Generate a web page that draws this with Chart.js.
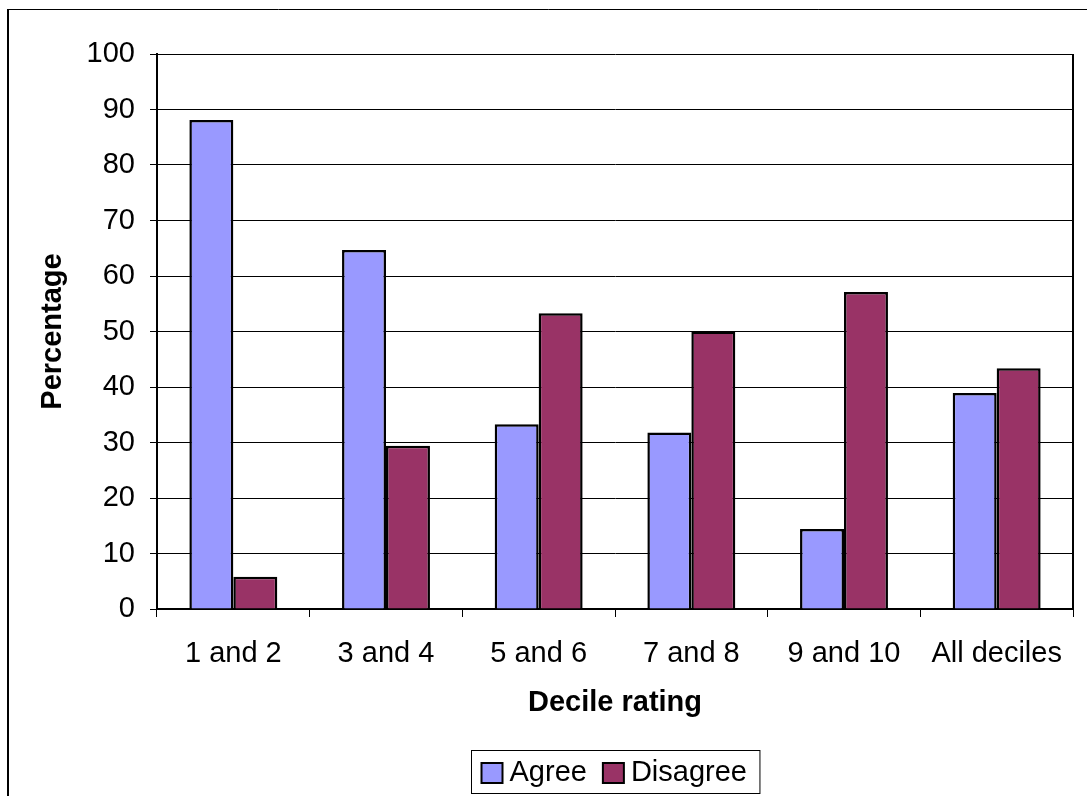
<!DOCTYPE html>
<html>
<head>
<meta charset="utf-8">
<script src="https://cdn.jsdelivr.net/npm/chart.js@4.4.1/dist/chart.umd.min.js"></script>
<style>
  html, body { margin: 0; padding: 0; background: #fff; }
  #wrap { position: relative; width: 1087px; height: 796px; }
  canvas { display: block; }
</style>
</head>
<body>
<div id="wrap"><canvas id="chart" width="1087" height="796"></canvas></div>
<script>
// Survey responses by decile rating (percent)
const categories = ['1 and 2', '3 and 4', '5 and 6', '7 and 8', '9 and 10', 'All deciles'];
const agree = [88.1, 64.7, 33.3, 31.8, 14.4, 38.9];
const disagree = [5.8, 29.4, 53.3, 50.0, 57.1, 43.4];
const seriesNames = ['Agree', 'Disagree'];
const yTicks = [0, 10, 20, 30, 40, 50, 60, 70, 80, 90, 100];

const FONT = '"Liberation Sans", Arial, sans-serif';
const FS = 29;

// Outer frame, plot-area right edge and boxed legend
const decor = {
  id: 'decor',
  beforeDraw(chart) {
    const ctx = chart.ctx;
    ctx.save();
    ctx.strokeStyle = '#000';
    ctx.lineWidth = 1;
    ctx.beginPath();
    ctx.moveTo(8.5, 2000);
    ctx.lineTo(8.5, 9.5);
    ctx.lineTo(2000, 9.5);
    ctx.stroke();
    ctx.fillStyle = '#000';
    ctx.fillRect(7, 9, 2, 2000);
    ctx.restore();
  },
  afterDraw(chart) {
    const ctx = chart.ctx;
    const a = chart.chartArea;
    ctx.save();
    ctx.strokeStyle = '#000';
    ctx.lineWidth = 2;
    ctx.beginPath();
    ctx.moveTo(a.right, a.top);
    ctx.lineTo(a.right, a.bottom);
    ctx.stroke();

    // legend
    ctx.font = FS + 'px ' + FONT;
    const sw = 21, gapText = 7, gapItem = 16, padL = 10, padR = 13;
    const items = chart.data.datasets.map(ds => ({
      label: ds.label, color: ds.backgroundColor, w: ctx.measureText(ds.label).width
    }));
    let total = padL + padR;
    items.forEach((it, i) => { total += sw + gapText + it.w + (i < items.length - 1 ? gapItem : 0); });
    const cx = (a.left + a.right) / 2;
    const boxX = Math.round(cx - total / 2) + 0.5;
    const boxY = a.bottom + 141.5;
    const boxH = 43;
    ctx.lineWidth = 1;
    ctx.strokeRect(boxX, boxY, total, boxH);
    let x = boxX + padL;
    const midY = boxY + boxH / 2 + 1;
    items.forEach(it => {
      ctx.fillStyle = it.color;
      ctx.fillRect(x, midY - 10, sw, 20);
      ctx.lineWidth = 2;
      ctx.strokeStyle = '#000';
      ctx.strokeRect(x, midY - 10, sw, 20);
      ctx.fillStyle = '#000';
      ctx.textBaseline = 'middle';
      ctx.textAlign = 'left';
      ctx.fillText(it.label, x + sw + gapText, midY);
      x += sw + gapText + it.w + gapItem;
    });
    ctx.restore();
  }
};

new Chart(document.getElementById('chart'), {
  type: 'bar',
  data: {
    labels: categories,
    datasets: [
      { label: seriesNames[0], data: agree, backgroundColor: '#9999FF', borderColor: '#000', borderWidth: 2.5 },
      { label: seriesNames[1], data: disagree, backgroundColor: '#993366', borderColor: '#000', borderWidth: 2.5 }
    ]
  },
  options: {
    responsive: false,
    animation: false,
    layout: { padding: { left: 0, right: 14, top: 54, bottom: 76 } },
    datasets: { bar: { categoryPercentage: 0.576, barPercentage: 1.0 } },
    plugins: { legend: { display: false }, tooltip: { enabled: false } },
    scales: {
      x: {
        offset: true,
        afterFit(scale) { scale.height = 111; },
        grid: { offset: true, drawOnChartArea: false, drawTicks: true, tickLength: 8, color: '#000', lineWidth: 1 },
        border: { display: true, color: '#000', width: 2 },
        ticks: { color: '#000', font: { family: FONT, size: FS }, padding: 20, maxRotation: 0 },
        title: { display: true, text: 'Decile rating', color: '#000', font: { family: FONT, size: FS, weight: 'bold' }, padding: { top: 0, bottom: 0 } }
      },
      y: {
        min: 0, max: 100,
        afterFit(scale) { scale.width = 157; },
        afterBuildTicks(scale) { scale.ticks = yTicks.map(v => ({ value: v })); },
        grid: { color: '#000', lineWidth: 1, tickLength: 7 },
        border: { display: true, color: '#000', width: 2 },
        ticks: { color: '#000', font: { family: FONT, size: FS }, padding: 15 },
        title: { display: true, text: 'Percentage', color: '#000', font: { family: FONT, size: FS, weight: 'bold' }, padding: { top: 36, bottom: 0 } }
      }
    }
  },
  plugins: [decor]
});
</script>
</body>
</html>
